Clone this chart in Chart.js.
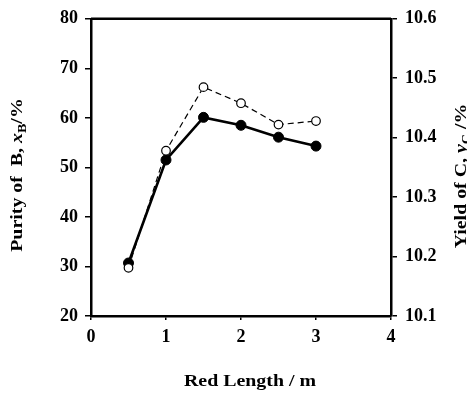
<!DOCTYPE html>
<html>
<head>
<meta charset="utf-8">
<script src="https://cdn.jsdelivr.net/npm/chart.js@4"></script>
<style>
  html, body { margin: 0; padding: 0; background: #fff; }
  #wrap { width: 467px; height: 395px; }
</style>
</head>
<body>
<div id="wrap"><canvas id="chart" width="467" height="395"></canvas></div>
<script>
// ─── Data ──────────────────────────────────────────────────────

const rodLength = [0.5, 1, 1.5, 2, 2.5, 3];
const purityB = [30.7, 51.5, 60.1, 58.5, 56.1, 54.3];
const yieldC = [10.181, 10.378, 10.485, 10.458, 10.422, 10.428];

const xTicks = [0, 1, 2, 3, 4];
const leftTicks = [20, 30, 40, 50, 60, 70, 80];
const rightTicks = [10.1, 10.2, 10.3, 10.4, 10.5, 10.6];

const SERIF = '"Liberation Serif", "Times New Roman", serif';
const tickFont = { family: SERIF, size: 18, weight: 'bold' };

// ─── Axis titles (mixed italic / subscript) ────────────────────

// the scanned labels are a bit wider than plain Times, so stretch along the text
function drawRuns(ctx, runs, stretch) {
  ctx.scale(stretch, 1);
  let w = 0;
  runs.forEach(r => {
    ctx.font = r.font;
    w += ctx.measureText(r.text).width;
  });
  let x = -w / 2;
  runs.forEach(r => {
    ctx.font = r.font;
    ctx.fillText(r.text, x, r.dy || 0);
    x += ctx.measureText(r.text).width;
  });
}

const titlesPlugin = {
  id: 'titles',
  afterDraw(chart) {
    const { ctx, chartArea } = chart;
    const b = `bold 17px ${SERIF}`;
    const bi = `italic bold 17px ${SERIF}`;
    const sub = `bold 12px ${SERIF}`;
    ctx.save();
    ctx.fillStyle = '#000';
    ctx.textBaseline = 'alphabetic';

    // top frame line
    ctx.strokeStyle = '#000';
    ctx.lineWidth = 2.5;
    ctx.beginPath();
    ctx.moveTo(chartArea.left, chartArea.top);
    ctx.lineTo(chartArea.right, chartArea.top);
    ctx.stroke();

    // x title
    ctx.save();
    ctx.translate(250, 386);
    drawRuns(ctx, [{ text: 'Red Length / m', font: b }], 1.17);
    ctx.restore();

    // left title
    ctx.save();
    ctx.translate(22, 175);
    ctx.rotate(-Math.PI / 2);
    drawRuns(ctx, [
      { text: 'Purity of  B, ', font: b },
      { text: 'x', font: bi },
      { text: 'B', font: sub, dy: 4 },
      { text: '/%', font: b },
    ], 1.17);
    ctx.restore();

    // right title
    ctx.save();
    ctx.translate(466, 176);
    ctx.rotate(-Math.PI / 2);
    drawRuns(ctx, [
      { text: 'Yield of C, ', font: b },
      { text: 'y', font: bi },
      { text: 'C', font: sub, dy: 4 },
      { text: ' /%', font: b },
    ], 1.17);
    ctx.restore();

    ctx.restore();
  },
};

// ─── Chart ─────────────────────────────────────────────────────

function axisBase() {
  return {
    border: { display: true, color: '#000', width: 2.5 },
    grid: { display: true, drawOnChartArea: false, drawTicks: true, color: '#000', lineWidth: 1.5 },
    ticks: { color: '#000', font: tickFont },
  };
}

function init() {
  const canvas = document.getElementById('chart');
  const x = axisBase();
  x.type = 'linear';
  x.position = 'bottom';
  x.min = 0;
  x.max = 4;
  x.grid.tickLength = 4;
  x.ticks.padding = 7;
  x.afterBuildTicks = s => { s.ticks = xTicks.map(v => ({ value: v })); };
  x.afterFit = s => { s.height = 79; };

  const y = axisBase();
  y.position = 'left';
  y.min = 20;
  y.max = 80;
  y.grid.tickLength = 6;
  y.ticks.padding = 7;
  y.afterBuildTicks = s => { s.ticks = leftTicks.map(v => ({ value: v })); };
  y.afterFit = s => { s.width = 91; };

  const y2 = axisBase();
  y2.position = 'right';
  y2.min = 10.1;
  y2.max = 10.6;
  y2.grid.tickLength = 6;
  y2.ticks.padding = 8;
  y2.ticks.callback = v => v.toFixed(1);
  y2.afterBuildTicks = s => { s.ticks = rightTicks.map(v => ({ value: v })); };
  y2.afterFit = s => { s.width = 76; };

  new Chart(canvas, {
    type: 'line',
    data: {
      datasets: [
        {
          label: 'Yield of C',
          data: rodLength.map((v, i) => ({ x: v, y: yieldC[i] })),
          yAxisID: 'y2',
          borderColor: '#000',
          borderWidth: 1.2,
          borderDash: [6, 4],
          pointRadius: 4.3,
          pointBackgroundColor: '#fff',
          pointBorderColor: '#000',
          pointBorderWidth: 1.2,
          tension: 0,
        },
        {
          label: 'Purity of B',
          data: rodLength.map((v, i) => ({ x: v, y: purityB[i] })),
          yAxisID: 'y',
          borderColor: '#000',
          borderWidth: 2.6,
          pointRadius: 5,
          pointBackgroundColor: '#000',
          pointBorderColor: '#000',
          pointBorderWidth: 1,
          tension: 0,
        },
      ],
    },
    options: {
      responsive: false,
      animation: false,
      layout: { padding: { top: 16, left: 0, right: 0, bottom: 0 } },
      plugins: {
        legend: { display: false },
        tooltip: { enabled: false },
      },
      scales: { x, y, y2 },
    },
    plugins: [titlesPlugin],
  });
}

document.addEventListener('DOMContentLoaded', init);
</script>
</body>
</html>
